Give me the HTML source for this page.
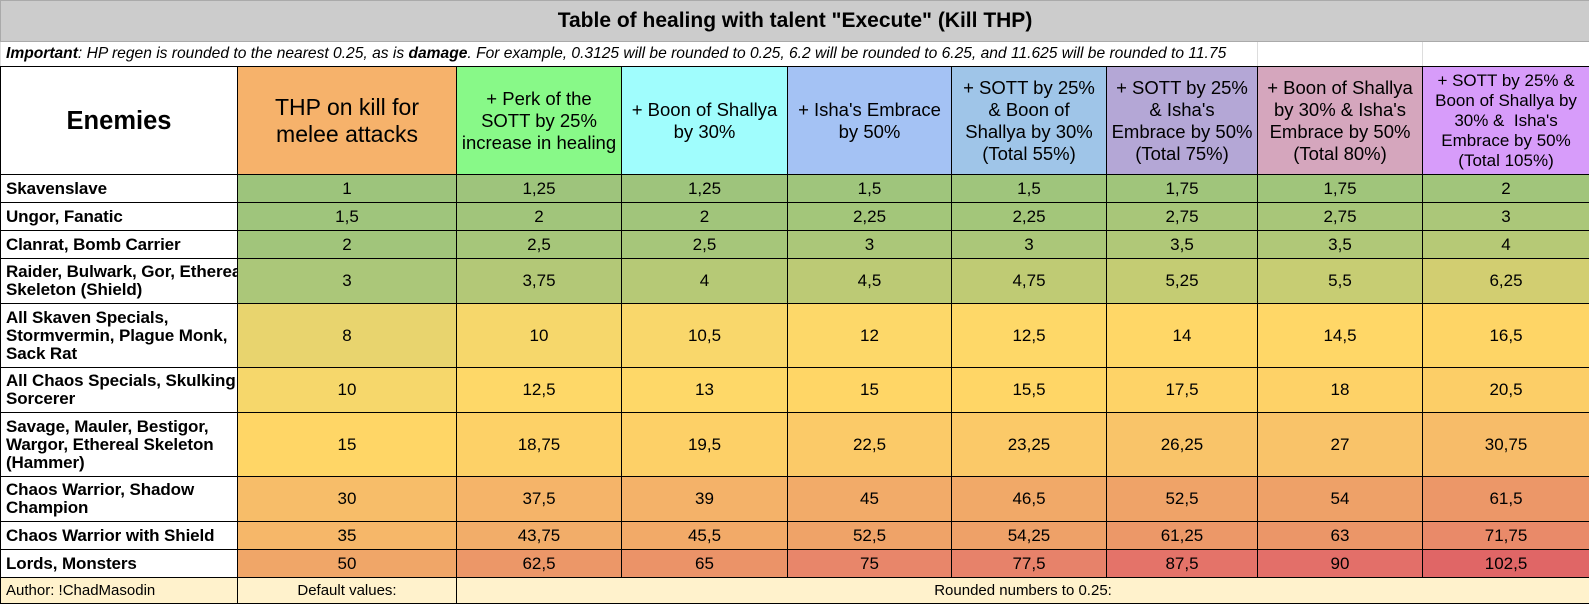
<!DOCTYPE html>
<html><head><meta charset="utf-8"><style>
html,body{margin:0;padding:0;background:#fff;width:1589px;height:604px;overflow:hidden}
table{border-collapse:collapse;table-layout:fixed;width:1589px;font-family:"Liberation Sans",Arial,sans-serif;color:#000}
td{border:1px solid #000;padding:0 2px;text-align:center;vertical-align:middle;overflow:hidden;white-space:nowrap}
.t td{background:#cccccc;border:1px solid #aaa;font-weight:bold;font-size:21px;height:40px}
.i td{border:1px solid #ddd;border-bottom:1px solid #000;font-size:15.6px;font-style:italic;text-align:left;height:24px;padding-left:5px;white-space:nowrap}
.h td{font-size:18.5px;line-height:22px;height:107px}
td.n{text-align:left;font-weight:bold;font-size:13.5px;letter-spacing:-0.1px;line-height:18px;padding-left:5px}
.d td{font-size:17px}
.f td{background:#fff2cc;font-size:15px;height:25px}
</style></head><body>
<table>
<colgroup><col style="width:237px"><col style="width:219px"><col style="width:165px"><col style="width:166px"><col style="width:164px"><col style="width:155px"><col style="width:151px"><col style="width:165px"><col style="width:167px"></colgroup>
<tr class="t"><td colspan="9">Table of healing with talent "Execute" (Kill THP)</td></tr>
<tr class="i"><td colspan="7"><b>Important</b>: HP regen is rounded to the nearest 0.25, as is <b>damage</b>. For example, 0.3125 will be rounded to 0.25, 6.2 will be rounded to 6.25, and 11.625 will be rounded to 11.75</td><td></td><td></td></tr>
<tr class="h">
<td style="font-weight:bold;font-size:25.5px">Enemies</td>
<td style="background:#f6b26b;font-size:23px;line-height:27px">THP on kill for<br>melee attacks</td>
<td style="background:#88f988">+ Perk of the<br>SOTT by 25%<br>increase in healing</td>
<td style="background:#a0fdfd">+ Boon of Shallya<br>by 30%</td>
<td style="background:#a4c2f4">+ Isha's Embrace<br>by 50%</td>
<td style="background:#9fc5e8">+ SOTT by 25%<br>&amp; Boon of<br>Shallya by 30%<br>(Total 55%)</td>
<td style="background:#b4a7d6">+ SOTT by 25%<br>&amp; Isha's<br>Embrace by 50%<br>(Total 75%)</td>
<td style="background:#d5a6bd">+ Boon of Shallya<br>by 30% &amp; Isha's<br>Embrace by 50%<br>(Total 80%)</td>
<td style="background:#d79cfa;font-size:17px;line-height:20px">+ SOTT by 25% &amp;<br>Boon of Shallya by<br>30% &amp;&nbsp; Isha's<br>Embrace by 50%<br>(Total 105%)</td>
</tr>
<tr class="d" style="height:28px"><td class="n">Skavenslave</td><td style="background:#9dc47c">1</td><td style="background:#9ec47c">1,25</td><td style="background:#9ec47c">1,25</td><td style="background:#9fc57c">1,5</td><td style="background:#9fc57c">1,5</td><td style="background:#a0c57b">1,75</td><td style="background:#a0c57b">1,75</td><td style="background:#a1c57b">2</td></tr>
<tr class="d" style="height:28px"><td class="n">Ungor, Fanatic</td><td style="background:#9fc57c">1,5</td><td style="background:#a1c57b">2</td><td style="background:#a1c57b">2</td><td style="background:#a3c67a">2,25</td><td style="background:#a3c67a">2,25</td><td style="background:#a8c679">2,75</td><td style="background:#a8c679">2,75</td><td style="background:#abc779">3</td></tr>
<tr class="d" style="height:28px"><td class="n">Clanrat, Bomb Carrier</td><td style="background:#a1c57b">2</td><td style="background:#a6c67a">2,5</td><td style="background:#a6c67a">2,5</td><td style="background:#abc779">3</td><td style="background:#abc779">3</td><td style="background:#b0c878">3,5</td><td style="background:#b0c878">3,5</td><td style="background:#b6c976">4</td></tr>
<tr class="d" style="height:45px"><td class="n">Raider, Bulwark, Gor, Ethereal<br>Skeleton (Shield)</td><td style="background:#abc779">3</td><td style="background:#b3c877">3,75</td><td style="background:#b6c976">4</td><td style="background:#bcca75">4,5</td><td style="background:#bfcb74">4,75</td><td style="background:#c4cc73">5,25</td><td style="background:#c7cd73">5,5</td><td style="background:#d2ce71">6,25</td></tr>
<tr class="d" style="height:64px"><td class="n">All Skaven Specials,<br>Stormvermin, Plague Monk,<br>Sack Rat</td><td style="background:#e8d46e">8</td><td style="background:#f6d76b">10</td><td style="background:#f9d76b">10,5</td><td style="background:#fdd869">12</td><td style="background:#fed868">12,5</td><td style="background:#ffd767">14</td><td style="background:#ffd767">14,5</td><td style="background:#fed566">16,5</td></tr>
<tr class="d" style="height:45px"><td class="n">All Chaos Specials, Skulking<br>Sorcerer</td><td style="background:#f6d76b">10</td><td style="background:#fed868">12,5</td><td style="background:#fed868">13</td><td style="background:#ffd666">15</td><td style="background:#ffd666">15,5</td><td style="background:#fed367">17,5</td><td style="background:#fed267">18</td><td style="background:#fcce67">20,5</td></tr>
<tr class="d" style="height:64px"><td class="n">Savage, Mauler, Bestigor,<br>Wargor, Ethereal Skeleton<br>(Hammer)</td><td style="background:#ffd666">15</td><td style="background:#fdd167">18,75</td><td style="background:#fdd067">19,5</td><td style="background:#fbca68">22,5</td><td style="background:#fbc968">23,25</td><td style="background:#f9c469">26,25</td><td style="background:#f9c369">27</td><td style="background:#f7bc69">30,75</td></tr>
<tr class="d" style="height:45px"><td class="n">Chaos Warrior, Shadow<br>Champion</td><td style="background:#f7bd69">30</td><td style="background:#f5b469">37,5</td><td style="background:#f4b269">39</td><td style="background:#f2ab69">45</td><td style="background:#f1a968">46,5</td><td style="background:#efa368">52,5</td><td style="background:#eea168">54</td><td style="background:#ec9768">61,5</td></tr>
<tr class="d" style="height:28px"><td class="n">Chaos Warrior with Shield</td><td style="background:#f6b769">35</td><td style="background:#f2ad69">43,75</td><td style="background:#f2aa68">45,5</td><td style="background:#efa368">52,5</td><td style="background:#eea168">54,25</td><td style="background:#ec9868">61,25</td><td style="background:#eb9668">63</td><td style="background:#e98a69">71,75</td></tr>
<tr class="d" style="height:28px"><td class="n">Lords, Monsters</td><td style="background:#f0a668">50</td><td style="background:#ec9768">62,5</td><td style="background:#eb9368">65</td><td style="background:#e8866a">75</td><td style="background:#e7826a">77,5</td><td style="background:#e47369">87,5</td><td style="background:#e36f69">90</td><td style="background:#e06666">102,5</td></tr>
<tr class="f"><td style="text-align:left;padding-left:5px">Author: !ChadMasodin</td><td>Default values:</td><td colspan="7">Rounded numbers to 0.25:</td></tr>
</table>
</body></html>
